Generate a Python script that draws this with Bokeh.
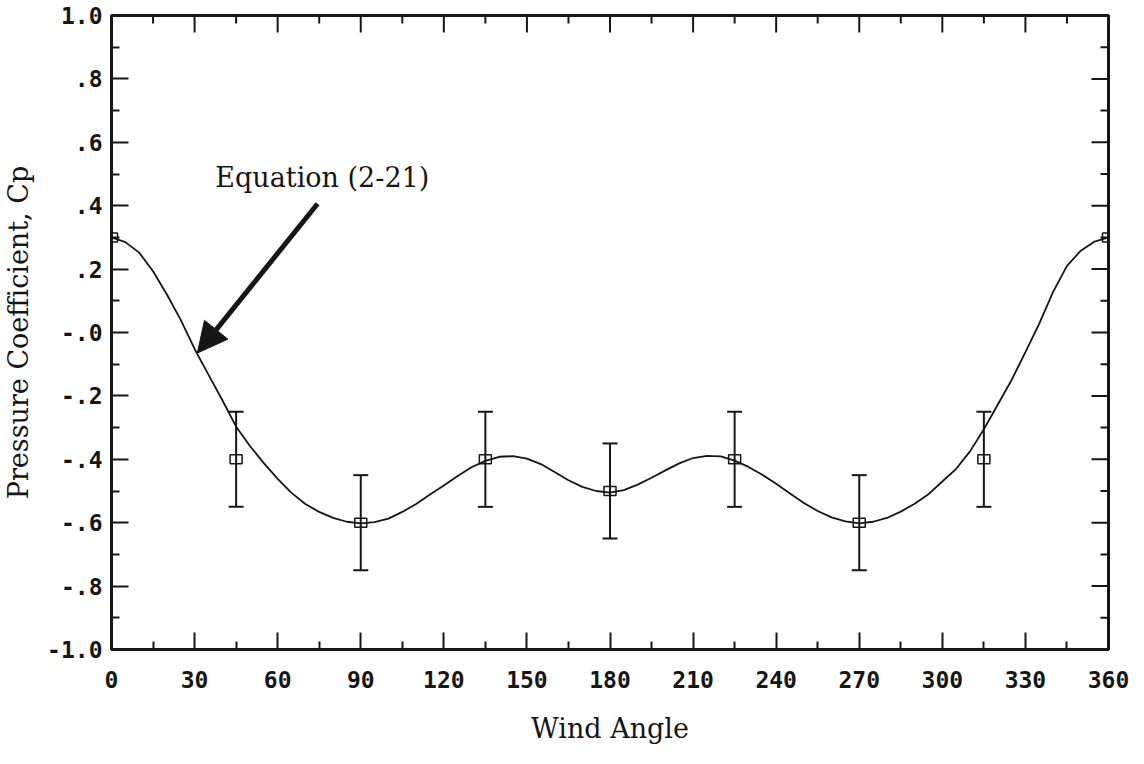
import math
from bokeh.plotting import figure
from bokeh.models import (FixedTicker, Whisker, TeeHead, ColumnDataSource,
                          Arrow, NormalHead, Label, Range1d)
from bokeh.embed import file_html
from bokeh.resources import INLINE

# Measured pressure coefficients with +/- scatter
point_angle = [0, 45, 90, 135, 180, 225, 270, 315, 360]
point_cp = [0.30, -0.40, -0.60, -0.40, -0.50, -0.40, -0.60, -0.40, 0.30]

bar_angle = [45, 90, 135, 180, 225, 270, 315]
bar_low = [-0.55, -0.75, -0.55, -0.65, -0.55, -0.75, -0.55]
bar_high = [-0.25, -0.45, -0.25, -0.35, -0.25, -0.45, -0.25]

# Equation (2-21), read every 5 degrees
curve_angle = list(range(0, 361, 5))
curve_cp = [
    0.300, 0.285, 0.252, 0.193, 0.120, 0.040, -0.052, -0.133, -0.213, -0.297,
    -0.358, -0.412, -0.462, -0.506, -0.541, -0.566, -0.585, -0.597, -0.602, -0.598,
    -0.587, -0.566, -0.541, -0.511, -0.483, -0.453, -0.425, -0.405, -0.392, -0.390,
    -0.398, -0.415, -0.440, -0.466, -0.487, -0.500, -0.505, -0.497, -0.480, -0.458,
    -0.435, -0.413, -0.396, -0.389, -0.391, -0.404, -0.424, -0.449, -0.477, -0.508,
    -0.538, -0.563, -0.583, -0.596, -0.602, -0.597, -0.585, -0.565, -0.540, -0.510,
    -0.470, -0.430, -0.375, -0.305, -0.228, -0.150, -0.062, 0.028, 0.128, 0.210,
    0.258, 0.287, 0.300,
]

x_ticks = [0, 30, 60, 90, 120, 150, 180, 210, 240, 270, 300, 330, 360]
x_minor = [15, 45, 75, 105, 135, 165, 195, 225, 255, 285, 315, 345]
y_ticks = [-1.0, -0.8, -0.6, -0.4, -0.2, 0.0, 0.2, 0.4, 0.6, 0.8, 1.0]
y_tick_labels = ["-1.0", "-.8", "-.6", "-.4", "-.2", "-.0", ".2", ".4", ".6", ".8", "1.0"]
y_minor = [-0.9, -0.7, -0.5, -0.3, -0.1, 0.1, 0.3, 0.5, 0.7, 0.9]

INK = "#161616"
X_MIN, X_MAX, Y_MIN, Y_MAX = 0, 360, -1.0, 1.0

p = figure(width=1144, height=764, x_range=Range1d(X_MIN, X_MAX), y_range=Range1d(Y_MIN, Y_MAX),
           output_backend="svg", toolbar_location=None,
           min_border_left=109, min_border_right=36, min_border_top=15, min_border_bottom=115)
p.grid.visible = False
p.background_fill_color = "white"
p.border_fill_color = "white"
p.outline_line_color = INK
p.outline_line_width = 3
p.outline_line_alpha = 1

bottom = p.below[0]
left = p.left[0]
bottom.ticker = FixedTicker(ticks=x_ticks, minor_ticks=x_minor)
left.ticker = FixedTicker(ticks=y_ticks, minor_ticks=y_minor)

for ax in [bottom, left]:
    ax.axis_line_color = None
    ax.major_tick_in = 17
    ax.major_tick_out = 0
    ax.minor_tick_in = 8
    ax.minor_tick_out = 0
    ax.major_tick_line_color = INK
    ax.minor_tick_line_color = INK
    ax.major_tick_line_width = 2
    ax.minor_tick_line_width = 2
    ax.major_label_text_font = "DejaVu Sans Mono"
    ax.major_label_text_font_style = "bold"
    ax.major_label_text_font_size = "23px"
    ax.major_label_text_color = INK
    ax.axis_label_text_font = "DejaVu Serif"
    ax.axis_label_text_font_style = "normal"
    ax.axis_label_text_font_size = "27px"
    ax.axis_label_text_color = INK

left.major_label_overrides = dict(zip(y_ticks, y_tick_labels))
left.major_label_standoff = 9
bottom.major_label_standoff = 21
bottom.axis_label = "Wind Angle"
left.axis_label = "Pressure Coefficient, Cp"
bottom.axis_label_standoff = 22
left.axis_label_standoff = 10

# inward ticks along the top and right edges of the frame
p.ray(x=x_ticks, y=[Y_MAX] * len(x_ticks), length=17, length_units="screen",
      angle=-math.pi / 2, line_color=INK, line_width=2)
p.ray(x=x_minor, y=[Y_MAX] * len(x_minor), length=8, length_units="screen",
      angle=-math.pi / 2, line_color=INK, line_width=2)
p.ray(x=[X_MAX] * len(y_ticks), y=y_ticks, length=17, length_units="screen",
      angle=math.pi, line_color=INK, line_width=2)
p.ray(x=[X_MAX] * len(y_minor), y=y_minor, length=8, length_units="screen",
      angle=math.pi, line_color=INK, line_width=2)

# fitted curve
p.line(curve_angle, curve_cp, line_width=1.8, line_color=INK)

# scatter bars
bars = ColumnDataSource(dict(x=bar_angle, lo=bar_low, hi=bar_high))
p.add_layout(Whisker(source=bars, base="x", lower="lo", upper="hi",
                     line_color=INK, line_width=2,
                     lower_head=TeeHead(size=15, line_color=INK, line_width=2),
                     upper_head=TeeHead(size=15, line_color=INK, line_width=2)))

# measured points as open squares
p.rect(point_angle, point_cp, width=12, height=9, width_units="screen", height_units="screen",
       fill_color=None, line_color=INK, line_width=1.5)

# annotation with arrow
p.add_layout(Arrow(x_start=74.4, y_start=0.406, x_end=31.0, y_end=-0.065,
                   line_color=INK, line_width=5,
                   end=NormalHead(size=30, fill_color=INK, line_color=INK, line_width=1)))
p.add_layout(Label(x=37.5, y=0.49, text="Equation (2-21)", text_font="DejaVu Serif",
                   text_font_size="27px", text_color=INK, text_baseline="alphabetic",
                   text_align="left"))

open("out.html", "w").write(file_html(p, INLINE))
